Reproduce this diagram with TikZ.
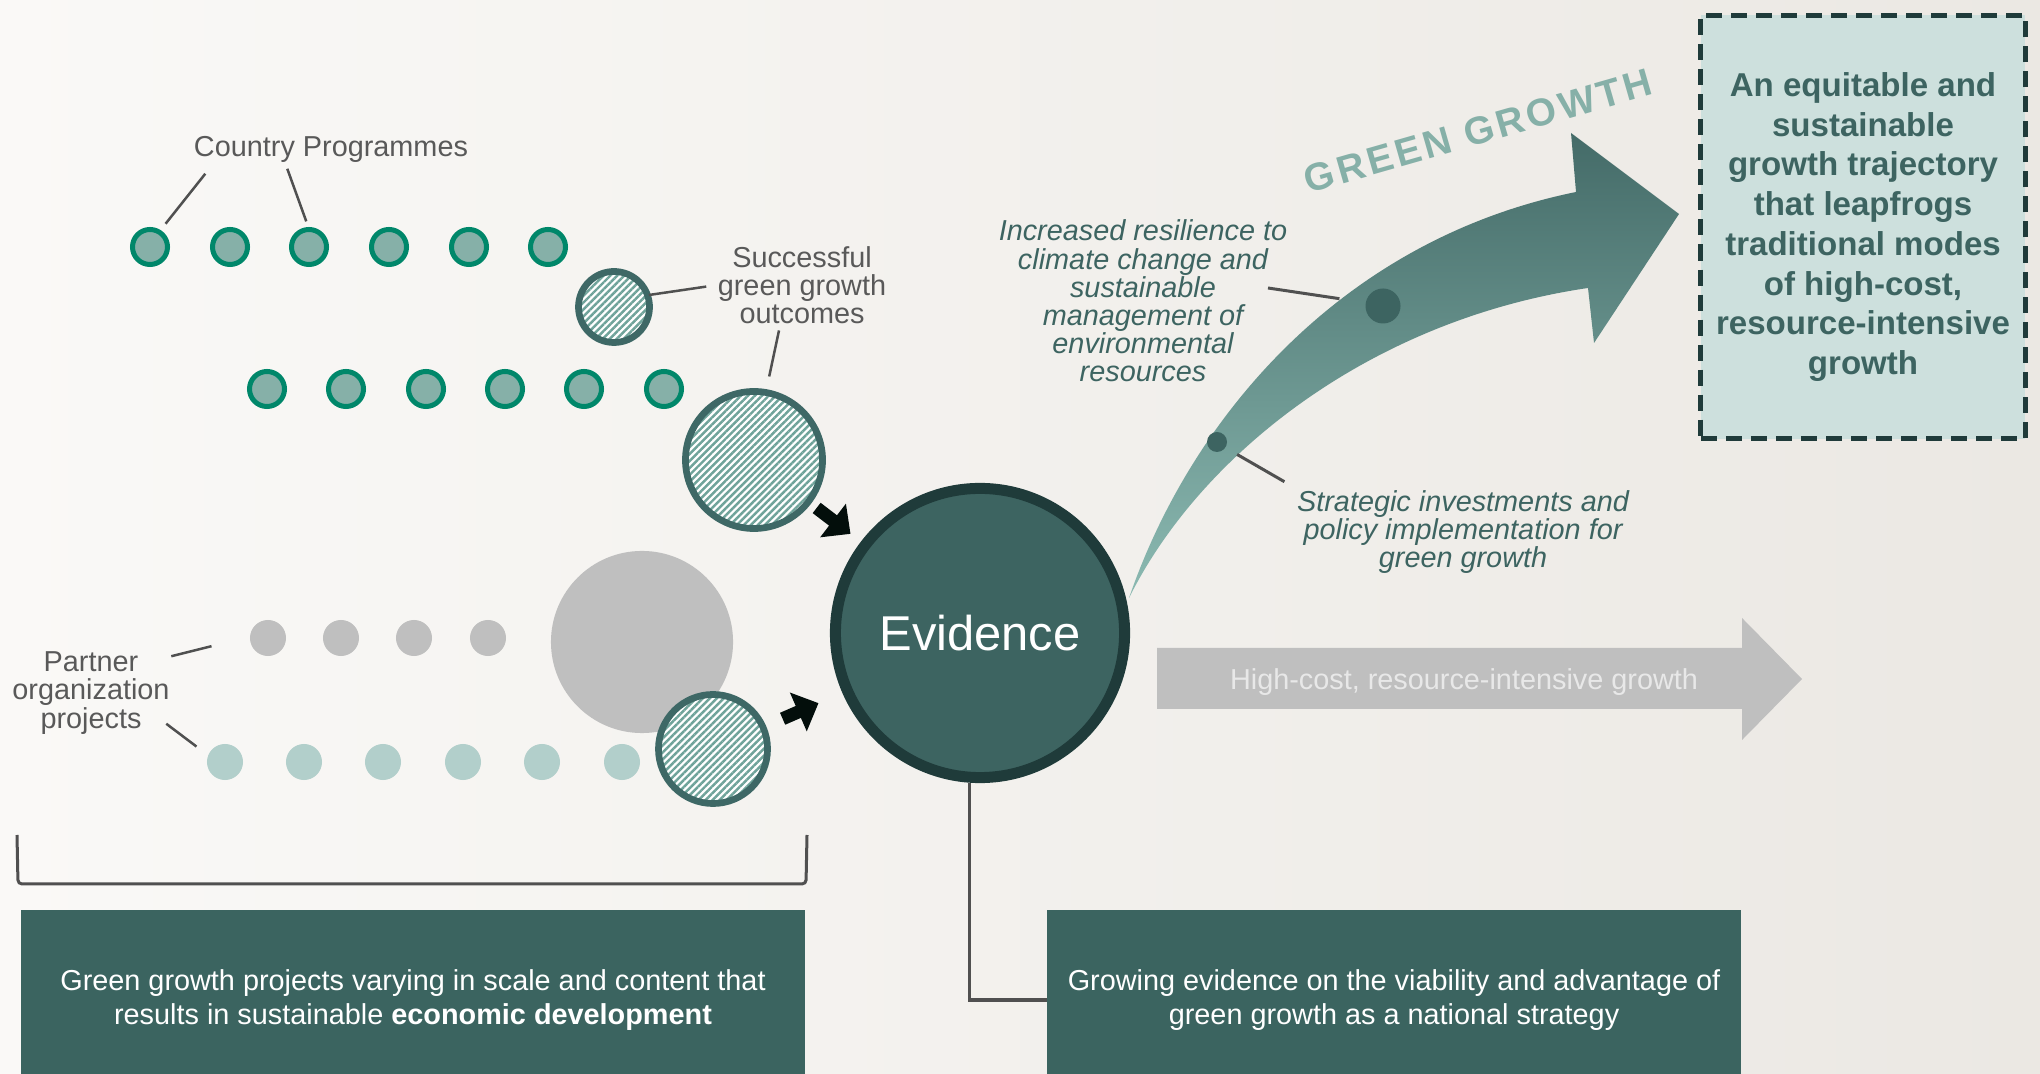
\documentclass[tikz,border=0pt]{standalone}
\usepackage{fontspec}
\setmainfont{Liberation Sans}
\usetikzlibrary{arrows.meta,patterns.meta}

\definecolor{bgA}{HTML}{FAF9F7}
\definecolor{bgB}{HTML}{EBE8E3}
\definecolor{dotfill}{HTML}{86B0A8}
\definecolor{dotline}{HTML}{00876A}
\definecolor{hatchline}{HTML}{3E6866}
\definecolor{hatchc}{HTML}{6FA39A}
\definecolor{evfill}{HTML}{3D6461}
\definecolor{evline}{HTML}{1F3B3A}
\definecolor{graydot}{HTML}{BFBFBF}
\definecolor{lightdot}{HTML}{B2CFCB}
\definecolor{labeltext}{HTML}{595959}
\definecolor{tealtext}{HTML}{3D6461}
\definecolor{boxc}{HTML}{3B6460}
\definecolor{eqfill}{HTML}{CDE0DD}
\definecolor{arrdark}{HTML}{446B68}
\definecolor{arrlight}{HTML}{8CBAB2}
\definecolor{ggtext}{HTML}{86B0A8}
\definecolor{blk}{HTML}{030E0B}
\definecolor{leadc}{HTML}{505050}
\definecolor{hctext}{HTML}{E8E8E8}

\tikzset{
	tdot/.style={circle,draw=dotline,fill=dotfill,line width=0.05cm,minimum size=0.35cm,inner sep=0},
	gdot/.style={circle,fill=graydot,minimum size=0.36cm,inner sep=0},
	ldot/.style={circle,fill=lightdot,minimum size=0.36cm,inner sep=0},
	hatched/.style={circle,draw=hatchline,line width=0.067cm,inner sep=0,preaction={fill=white},pattern={Lines[angle=45,distance=1.4pt,line width=0.7pt]},pattern color=hatchc},
	lbl/.style={text=labeltext,align=center,inner sep=0,font=\fontsize{8.2}{8}\selectfont},
	itl/.style={text=tealtext,align=center,inner sep=0,font=\fontsize{8.2}{8}\selectfont\itshape},
	leader/.style={draw=leadc,line width=0.025cm},
	blkarrow/.style={draw=blk,line width=0.13cm,-{Triangle[length=0.22cm,width=0.41cm]}},
	darkbox/.style={fill=boxc,text=white,align=center,inner sep=0,font=\fontsize{8.2}{9.7}\selectfont}
}

\begin{document}
\begin{tikzpicture}[x=0.01cm,y=-0.01cm]
	\useasboundingbox (0,0) rectangle (2040,1074);
	\shade[left color=bgA,right color=bgB] (0,0) rectangle (2040,1074);
	\foreach \x [count=\i] in {150,230,309,389,469,548}
	{
		\node[tdot] (a\i) at (\x,247) {};
	}
	\foreach \x [count=\i] in {267,346,426,505,584,664}
	{
		\node[tdot] (b\i) at (\x,389) {};
	}
	\foreach \x [count=\i] in {268,341,414,488}
	{
		\node[gdot] (g\i) at (\x,638) {};
	}
	\foreach \x [count=\i] in {225,304,383,463,542,622}
	{
		\node[ldot] (t\i) at (\x,762) {};
	}
	\node[circle,fill=graydot,minimum size=1.82cm,inner sep=0] (gbig) at (642,642) {};
	\node[hatched,minimum size=0.71cm] (h1) at (614,307) {};
	\node[hatched,minimum size=1.37cm] (h2) at (754,460) {};
	\node[hatched,minimum size=1.09cm] (h3) at (713,749) {};
	\shade[top color=arrdark,bottom color=arrlight] (1129,598) .. controls (1190,420) and (1340,240) .. (1576,192) -- (1571,133) -- (1679,214) -- (1594,343) -- (1588,288) .. controls (1370,320) and (1200,455) .. (1129,598) -- cycle;
	\node[circle,fill=evfill,minimum size=0.35cm,inner sep=0] (bd) at (1383,306) {};
	\node[circle,fill=evfill,minimum size=0.2cm,inner sep=0] (sd) at (1217,442) {};
	\node[circle,draw=evline,fill=evfill,line width=0.11cm,minimum size=2.89cm,inner sep=0,text=white,font=\fontsize{13.9}{14}\selectfont] (ev) at (980,633) {Evidence};
	\draw[blkarrow,shorten <=0.07cm,shorten >=0.13cm] (h2) -- (ev);
	\draw[blkarrow,shorten <=0.18cm,shorten >=0.26cm] (h3) -- (ev);
	\node[lbl] (cp) at (331,149) {Country Programmes};
	\node[lbl] (sgo) at (802,285) {Successful\\green growth\\outcomes};
	\node[lbl] (pop) at (91,693) {Partner\\organization\\projects};
	\node[itl] (ire) at (1143,301) {Increased resilience to\\climate change and\\sustainable\\management of\\environmental\\resources};
	\node[itl] (sip) at (1463,532) {Strategic investments and\\policy implementation for\\green growth};
	\draw[leader,shorten >=0.08cm] ([shift={(12,11)}]cp.south west) -- (a1.58);
	\draw[leader,shorten >=0.06cm] ([shift={(94,6)}]cp.south west) -- (a3.92);
	\draw[leader,shorten >=0.11cm] (h1.19) -- (sgo.west);
	\draw[leader,shorten >=0.13cm] ([shift={(-23,6)}]sgo.south) -- (h2.80);
	\draw[leader,shorten >=0.39cm] ([shift={(1,5)}]pop.north east) -- (g1.176);
	\draw[leader,shorten >=0.14cm] ([shift={(-4,-11)}]pop.south east) -- (t1.158);
	\draw[leader,line width=0.03cm,shorten >=0.26cm] ([shift={(-20,-13)}]ire.east) -- (bd.169);
	\draw[leader,line width=0.03cm,shorten <=0.13cm] (sd.-34) -- ([shift={(-12,-8)}]sip.north west);
	\node[text=ggtext,rotate=16,inner sep=0,font=\fontsize{11}{12}\selectfont\bfseries\addfontfeature{LetterSpace=9}] (gg) at (1478,131) {GREEN GROWTH};
	\fill[graydot] (1157,648) -- (1742,648) -- (1742,618) -- (1802,679) -- (1742,740) -- (1742,709) -- (1157,709) -- cycle;
	\node[text=hctext,inner sep=0,font=\fontsize{8.2}{8}\selectfont] (hc) at (1464,682) {High-cost, resource-intensive growth};
	\node[draw=evline,fill=eqfill,line width=0.05cm,dash pattern=on 0.16cm off 0.09cm,minimum width=3.24cm,minimum height=4.23cm,inner sep=0,align=center,text=tealtext,font=\fontsize{9.4}{11.3}\selectfont\bfseries] (eq) at (1863,227) {An equitable and\\sustainable\\growth trajectory\\that leapfrogs\\traditional modes\\of high-cost,\\resource-intensive\\growth};
	\draw[draw=leadc,line width=0.03cm,rounded corners=0.04cm] (17,835) -- (18,884) -- (806,884) -- (807,835);
	\node[darkbox,minimum width=7.84cm,minimum height=1.8cm] (pbox) at (413,1000) {Green growth projects varying in scale and content that\\results in sustainable \textbf{economic development}};
	\node[darkbox,minimum width=6.93cm,minimum height=1.8cm] (gbox) at (1394,1000) {Growing evidence on the viability and advantage of\\green growth as a national strategy};
	\draw[draw=leadc,line width=0.03cm] ([xshift=-0.11cm]ev.south) |- (gbox.west);
\end{tikzpicture}
\end{document}
